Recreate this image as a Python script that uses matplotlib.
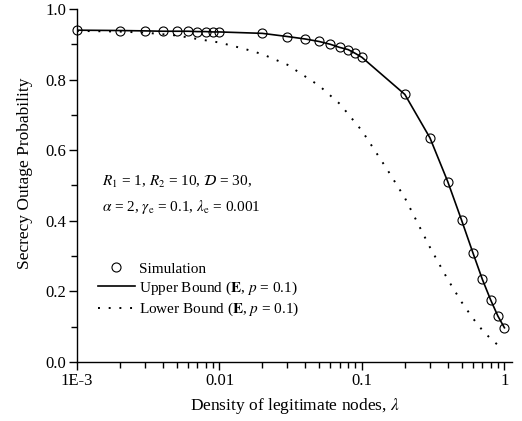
import matplotlib

matplotlib.use("Agg")
from matplotlib import pyplot as plt
from matplotlib.ticker import FixedLocator, FuncFormatter, MultipleLocator, NullFormatter

plt.rcParams["font.family"] = ["Liberation Serif", "DejaVu Serif"]
plt.rcParams["mathtext.fontset"] = "stix"

# density of legitimate nodes
lam_sim = [0.001, 0.002, 0.003, 0.004, 0.005, 0.006, 0.007, 0.008, 0.009,
           0.01, 0.02, 0.03, 0.04, 0.05, 0.06, 0.07, 0.08, 0.09,
           0.1, 0.2, 0.3, 0.4, 0.5, 0.6, 0.7, 0.8, 0.9, 1.0]
sop_sim = [0.940, 0.939, 0.938, 0.937, 0.937, 0.937, 0.936, 0.936, 0.935,
           0.935, 0.931, 0.922, 0.915, 0.908, 0.900, 0.891, 0.885, 0.874,
           0.863, 0.758, 0.635, 0.511, 0.402, 0.310, 0.234, 0.176, 0.130, 0.097]

lam_upper = lam_sim
sop_upper = [0.940, 0.939, 0.938, 0.937, 0.937, 0.937, 0.936, 0.936, 0.935,
             0.935, 0.931, 0.922, 0.915, 0.908, 0.900, 0.891, 0.885, 0.874,
             0.863, 0.758, 0.635, 0.511, 0.402, 0.310, 0.234, 0.176, 0.130, 0.097]

lam_lower = [0.001, 0.002, 0.003, 0.005, 0.007, 0.01, 0.015, 0.02, 0.03, 0.05,
             0.07, 0.1, 0.15, 0.2, 0.3, 0.4, 0.5, 0.6, 0.7, 0.8, 0.9]
sop_lower = [0.938, 0.936, 0.933, 0.925, 0.915, 0.905, 0.887, 0.872, 0.842, 0.783,
             0.731, 0.655, 0.546, 0.465, 0.325, 0.234, 0.170, 0.124, 0.090, 0.066, 0.048]

x_ticks = [0.001, 0.01, 0.1, 1]
x_ticklabels = ["1E-3", "0.01", "0.1", "1"]
x_minor = [m * d for d in (0.001, 0.01, 0.1) for m in range(2, 10)]

fig = plt.figure(figsize=(5.22, 4.21), dpi=100)
ax = fig.add_axes([77 / 522, 1 - 362 / 421, (512 - 77) / 522, (362 - 9) / 421])

ax.plot(lam_upper, sop_upper, color="black", lw=1.2, label=r"Upper Bound ($\mathbf{E}$, $p$ = 0.1)")
ax.plot(lam_lower, sop_lower, color="black", lw=1.4, ls=(0, (1, 4.5)),
        label=r"Lower Bound ($\mathbf{E}$, $p$ = 0.1)")
ax.plot(lam_sim, sop_sim, ls="none", marker="o", ms=6.5, mfc="none", mec="black",
        mew=0.8, label="Simulation", clip_on=False)

ax.set_xscale("log")
ax.set_xlim(0.001, 1.13)
ax.set_ylim(0.0, 1.0)
ax.xaxis.set_major_locator(FixedLocator(x_ticks))
ax.xaxis.set_minor_locator(FixedLocator(x_minor))
ax.xaxis.set_minor_formatter(NullFormatter())
ax.xaxis.set_major_formatter(FuncFormatter(lambda v, _: x_ticklabels[x_ticks.index(v)] if v in x_ticks else ""))
ax.yaxis.set_major_locator(MultipleLocator(0.2))
ax.yaxis.set_minor_locator(MultipleLocator(0.1))
ax.yaxis.set_major_formatter(FuncFormatter(lambda v, _: f"{v:.1f}"))

for side in ("top", "right"):
    ax.spines[side].set_visible(False)
for side in ("left", "bottom"):
    ax.spines[side].set_linewidth(1.0)
ax.tick_params(which="major", direction="out", length=6, width=1.0, colors="black",
               labelsize=12, pad=2)
ax.tick_params(which="minor", direction="out", length=4, width=1.0, colors="black")

ax.set_xlabel(r"Density of legitimate nodes, $\lambda$", fontsize=12.5, labelpad=5)
ax.set_ylabel("Secrecy Outage Probability", fontsize=12.5)
ax.yaxis.set_label_coords(-0.1, 0.535)

fig.text(102 / 522, 1 - 182 / 421, r"$R_1$ = 1, $R_2$ = 10, $\mathcal{D}$ = 30,",
         fontsize=11, va="center", ha="left")
fig.text(102 / 522, 1 - 207 / 421, r"$\alpha$ = 2, $\gamma_{\rm e}$ = 0.1, $\lambda_{\rm e}$ = 0.001",
         fontsize=11, va="center", ha="left")

handles, labels = ax.get_legend_handles_labels()
order = [2, 0, 1]
ax.legend([handles[i] for i in order], [labels[i] for i in order],
          loc="upper left", bbox_to_anchor=(98 / 522, 1 - 262 / 421),
          bbox_transform=fig.transFigure, frameon=False, fontsize=11,
          handlelength=2.4, handletextpad=0.3, labelspacing=0.25,
          borderpad=0, borderaxespad=0)

fig.savefig("out.png", dpi=100)
plt.close(fig)
